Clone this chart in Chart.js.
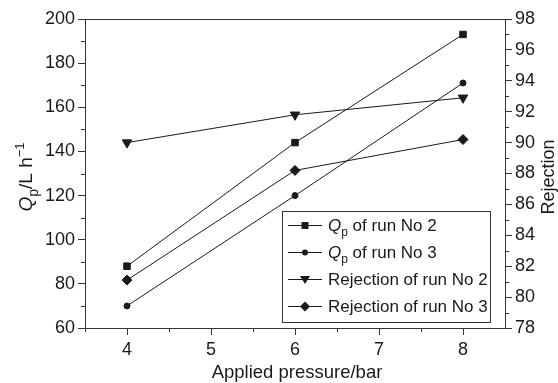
<!DOCTYPE html>
<html>
<head>
<meta charset="utf-8">
<script src="https://cdn.jsdelivr.net/npm/chart.js@4.4.1/dist/chart.umd.min.js"></script>
<style>
  html, body { margin: 0; padding: 0; background: #fff; }
</style>
</head>
<body>
<canvas id="chart" width="558" height="383"></canvas>
<script>
// Datos
const pressure = [4, 6, 8];
const qpRun2 = [88, 144, 193];
const qpRun3 = [70, 120, 171];
const rejectionRun2 = [90.0, 91.8, 92.9];
const rejectionRun3 = [81.1, 88.2, 90.2];

const xTicks = [4, 5, 6, 7, 8];
const xMinorTicks = [3.5, 4.5, 5.5, 6.5, 7.5];
const qTicks = [60, 80, 100, 120, 140, 160, 180, 200];
const qMinorTicks = [70, 90, 110, 130, 150, 170, 190];
const rejectionTicks = [78, 80, 82, 84, 86, 88, 90, 92, 94, 96, 98];
const rejectionMinorTicks = [79, 81, 83, 85, 87, 89, 91, 93, 95, 97];

const legendLabels = [
    { q: true, text: ' of run No 2', style: 'rect' },
    { q: true, text: ' of run No 3', style: 'circle' },
    { q: false, text: 'Rejection of run No 2', style: 'triangleDown' },
    { q: false, text: 'Rejection of run No 3', style: 'diamond' }
];

const FONT = '"Liberation Sans", Arial, Helvetica, sans-serif';
const INK = '#1a1a1a';
const AXIS = '#333';

const toPoints = (xs, ys) => xs.map((x, i) => ({ x: x, y: ys[i] }));

function drawMarker(ctx, style, x, y) {
    ctx.beginPath();
    if (style === 'rect') {
        ctx.rect(x - 3.5, y - 3.5, 7, 7);
    } else if (style === 'circle') {
        ctx.arc(x, y, 3, 0, Math.PI * 2);
    } else if (style === 'triangleDown') {
        ctx.moveTo(x - 5, y - 3.5);
        ctx.lineTo(x + 5, y - 3.5);
        ctx.lineTo(x, y + 4.5);
        ctx.closePath();
    } else {
        ctx.moveTo(x, y - 5);
        ctx.lineTo(x + 5, y);
        ctx.lineTo(x, y + 5);
        ctx.lineTo(x - 5, y);
        ctx.closePath();
    }
    ctx.fill();
}

// Q_p con subindice, devuelve el ancho
function drawQp(ctx, x, y, size) {
    ctx.font = 'italic ' + size + 'px ' + FONT;
    ctx.fillText('Q', x, y);
    let w = ctx.measureText('Q').width;
    ctx.font = Math.round(size * 0.72) + 'px ' + FONT;
    ctx.fillText('p', x + w, y + size * 0.3);
    w += ctx.measureText('p').width;
    return w;
}

const decorations = {
    id: 'decorations',
    afterDraw(chart) {
        const { ctx, chartArea: area, scales } = chart;
        ctx.save();
        ctx.strokeStyle = AXIS;
        ctx.lineWidth = 1;

        // linea superior del marco
        ctx.beginPath();
        ctx.moveTo(area.left, Math.round(area.top) + 0.5);
        ctx.lineTo(area.right, Math.round(area.top) + 0.5);
        ctx.stroke();

        // ticks menores
        ctx.beginPath();
        xMinorTicks.forEach(v => {
            const px = Math.round(scales.x.getPixelForValue(v)) + 0.5;
            ctx.moveTo(px, area.bottom);
            ctx.lineTo(px, area.bottom + 4);
        });
        qMinorTicks.forEach(v => {
            const py = Math.round(scales.y.getPixelForValue(v)) + 0.5;
            ctx.moveTo(area.left, py);
            ctx.lineTo(area.left - 4, py);
        });
        rejectionMinorTicks.forEach(v => {
            const py = Math.round(scales.y2.getPixelForValue(v)) + 0.5;
            ctx.moveTo(area.right, py);
            ctx.lineTo(area.right + 4, py);
        });
        ctx.stroke();

        // titulos de ejes
        ctx.fillStyle = INK;
        ctx.textBaseline = 'alphabetic';
        ctx.font = '18.5px ' + FONT;
        ctx.textAlign = 'center';
        ctx.fillText('Applied pressure/bar', 297, 378);

        ctx.save();
        ctx.translate(32, 177);
        ctx.rotate(-Math.PI / 2);
        ctx.textAlign = 'left';
        ctx.font = 'italic 19px ' + FONT;
        const wQ = ctx.measureText('Q').width;
        ctx.font = '14px ' + FONT;
        const wP = ctx.measureText('p').width;
        ctx.font = '19px ' + FONT;
        const wMain = ctx.measureText('/L h').width;
        ctx.font = '13px ' + FONT;
        const wSup = ctx.measureText('\u22121').width;
        let cx = -(wQ + wP + wMain + wSup) / 2;
        cx += drawQp(ctx, cx, 0, 19);
        ctx.font = '19px ' + FONT;
        ctx.fillText('/L h', cx, 0);
        cx += wMain;
        ctx.font = '13px ' + FONT;
        ctx.fillText('\u22121', cx, -8);
        ctx.restore();

        ctx.save();
        ctx.translate(554, 177);
        ctx.rotate(-Math.PI / 2);
        ctx.textAlign = 'center';
        ctx.font = '18px ' + FONT;
        ctx.fillText('Rejection', 0, 0);
        ctx.restore();

        // leyenda
        const box = { left: 282, top: 211, right: 490, bottom: 322 };
        ctx.fillStyle = '#fff';
        ctx.fillRect(box.left, box.top, box.right - box.left, box.bottom - box.top);
        ctx.strokeStyle = AXIS;
        ctx.strokeRect(box.left + 0.5, box.top + 0.5, box.right - box.left, box.bottom - box.top);
        const rowY = [225, 252, 279, 306];
        legendLabels.forEach((item, i) => {
            const y = rowY[i];
            ctx.strokeStyle = INK;
            ctx.beginPath();
            ctx.moveTo(288, y + 0.5);
            ctx.lineTo(322, y + 0.5);
            ctx.stroke();
            ctx.fillStyle = INK;
            drawMarker(ctx, item.style, 305, y + 0.5);
            ctx.textAlign = 'left';
            let tx = 328;
            const base = y + 6;
            if (item.q) {
                tx += drawQp(ctx, tx, base, 17);
            }
            ctx.font = '17px ' + FONT;
            ctx.fillText(item.text, tx, base);
        });

        ctx.restore();
    }
};

const baseLine = {
    borderColor: INK,
    borderWidth: 1,
    pointBackgroundColor: INK,
    pointBorderColor: INK,
    pointBorderWidth: 1,
    tension: 0,
    fill: false
};

const tickFont = { family: FONT, size: 18 };

new Chart(document.getElementById('chart'), {
    type: 'line',
    data: {
        datasets: [
            Object.assign({}, baseLine, {
                label: 'Qp of run No 2',
                data: toPoints(pressure, qpRun2),
                yAxisID: 'y',
                pointStyle: 'rect',
                pointRadius: 4.6
            }),
            Object.assign({}, baseLine, {
                label: 'Qp of run No 3',
                data: toPoints(pressure, qpRun3),
                yAxisID: 'y',
                pointStyle: 'circle',
                pointRadius: 3
            }),
            Object.assign({}, baseLine, {
                label: 'Rejection of run No 2',
                data: toPoints(pressure, rejectionRun2),
                yAxisID: 'y2',
                pointStyle: 'triangle',
                pointRotation: 180,
                pointRadius: 5.5
            }),
            Object.assign({}, baseLine, {
                label: 'Rejection of run No 3',
                data: toPoints(pressure, rejectionRun3),
                yAxisID: 'y2',
                pointStyle: 'rectRot',
                pointRadius: 5
            })
        ]
    },
    options: {
        responsive: false,
        animation: false,
        devicePixelRatio: 1,
        layout: { padding: { top: 19, left: 0, right: 0, bottom: 0 } },
        plugins: {
            legend: { display: false },
            tooltip: { enabled: false }
        },
        scales: {
            x: {
                type: 'linear',
                min: 3.5,
                max: 8.5,
                afterFit: scale => { scale.height = 55; },
                afterBuildTicks: scale => { scale.ticks = xTicks.map(v => ({ value: v })); },
                border: { display: true, color: AXIS, width: 1 },
                grid: { drawOnChartArea: false, drawTicks: true, tickLength: 7, tickColor: AXIS },
                ticks: { color: INK, font: tickFont, padding: 4, maxRotation: 0 }
            },
            y: {
                type: 'linear',
                position: 'left',
                min: 60,
                max: 200,
                afterFit: scale => { scale.width = 85; },
                afterBuildTicks: scale => { scale.ticks = qTicks.map(v => ({ value: v })); },
                border: { display: true, color: AXIS, width: 1 },
                grid: { drawOnChartArea: false, drawTicks: true, tickLength: 7, tickColor: AXIS },
                ticks: { color: INK, font: tickFont, padding: 3 }
            },
            y2: {
                type: 'linear',
                position: 'right',
                min: 78,
                max: 98,
                afterFit: scale => { scale.width = 53; },
                afterBuildTicks: scale => { scale.ticks = rejectionTicks.map(v => ({ value: v })); },
                border: { display: true, color: AXIS, width: 1 },
                grid: { drawOnChartArea: false, drawTicks: true, tickLength: 7, tickColor: AXIS },
                ticks: { color: INK, font: tickFont, padding: 3 }
            }
        }
    },
    plugins: [decorations]
});
</script>
</body>
</html>
